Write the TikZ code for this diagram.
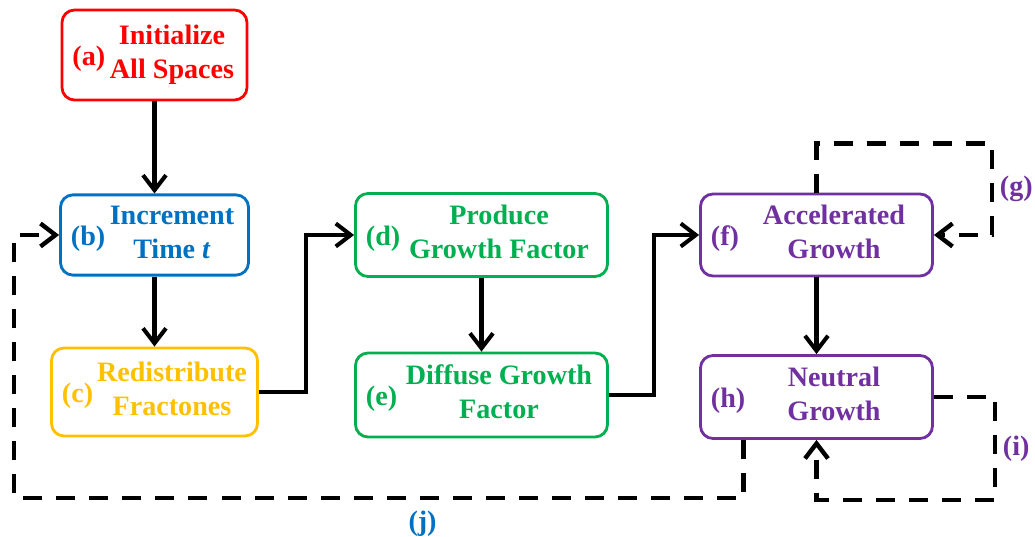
\documentclass[tikz,border=0pt]{standalone}
\usepackage{fontspec}
\setmainfont{Liberation Serif}
\usepackage{xcolor}
\usetikzlibrary{arrows.meta}

\definecolor{stepred}{HTML}{FF0000}
\definecolor{stepblue}{HTML}{0070C0}
\definecolor{stepamber}{HTML}{FFC000}
\definecolor{stepgreen}{HTML}{00B050}
\definecolor{steppurple}{HTML}{7030A0}

% text of a box, pushed right to leave room for the letter
\newcommand{\steptext}[1]{\hspace*{0.7cm}\begin{tabular}{@{}c@{}}#1\end{tabular}}

\begin{document}
\begin{tikzpicture}[->,>={Straight Barb[length=3mm,width=4.6mm]},
  line width=2.3pt,node distance=3cm,
  stepfont/.style={font=\fontsize{16}{19.5}\selectfont\bfseries},
  stepbox/.style={draw=#1,text=#1,stepfont,rounded corners=0.25cm,
    line width=1.6pt,minimum width=4.64cm,minimum height=1.66cm},
  steplbl/.style={anchor=west,text=#1,stepfont,xshift=0.08cm,yshift=-0.08cm},
  loopline/.style={dash pattern=on 0.38cm off 0.28cm,line width=2.5pt}]
  \useasboundingbox (0,0) rectangle (20.7,10.74);

  \node[stepbox=stepred,minimum width=3.7cm,minimum height=1.8cm,
    label={[steplbl=stepred]west:(a)}] (init) at (3.09,9.64)
    {\steptext{Initialize\\All Spaces}};
  \node[stepbox=stepblue,minimum width=3.76cm,minimum height=1.6cm,
    label={[steplbl=stepblue]west:(b)},node distance=3.6cm] (time) [below of=init]
    {\steptext{Increment\\Time \textit{t}}};
  \node[stepbox=stepamber,minimum width=4.12cm,minimum height=1.76cm,
    label={[steplbl=stepamber]west:(c)},node distance=3.14cm] (redis) [below of=time]
    {\steptext{Redistribute\\Fractones}};
  \node[stepbox=stepgreen,minimum width=5.04cm,
    label={[steplbl=stepgreen]west:(d)},node distance=6.54cm] (produce) [right of=time]
    {\steptext{Produce\\Growth Factor}};
  \node[stepbox=stepgreen,minimum width=5.04cm,minimum height=1.68cm,
    label={[steplbl=stepgreen]west:(e)},node distance=3.2cm] (diffuse) [below of=produce]
    {\steptext{Diffuse Growth\\Factor}};
  \node[stepbox=steppurple,minimum height=1.64cm,
    label={[steplbl=steppurple]west:(f)},node distance=6.7cm] (accel) [right of=produce]
    {\steptext{Accelerated\\Growth}};
  \node[stepbox=steppurple,
    label={[steplbl=steppurple]west:(h)},node distance=3.24cm] (neutral) [below of=accel]
    {\steptext{Neutral\\Growth}};

  % main flow
  \draw (init) -- (time);
  \draw (time) -- (redis);
  \draw (redis.east) -- ++(0.94,0) |- (produce.west);
  \draw (produce) -- (diffuse);
  \draw (diffuse.east) -- ++(0.9,0) |- (accel.west);
  \draw (accel) -- (neutral);

  % feedback loops
  \draw[loopline] (accel.north) -- ++(0,0.98) -| node[pos=0.75,right,text=steppurple,stepfont] (g) {(g)}
    ([xshift=1.16cm]accel.east) -- (accel.east);
  \draw[loopline] (neutral.east) -- ++(1.22,0) |- node[pos=0.25,right,text=steppurple,stepfont] (i) {(i)}
    ([yshift=-1.2cm]neutral.south) -- (neutral.south);
  \draw[loopline] ([xshift=-1.46cm]neutral.south) -- ++(0,-1.16)
    -| node[pos=0.22,below=0.1cm,text=stepblue,stepfont] (j) {(j)}
    ([xshift=-0.9cm]time.west) -- (time.west);
\end{tikzpicture}
\end{document}
